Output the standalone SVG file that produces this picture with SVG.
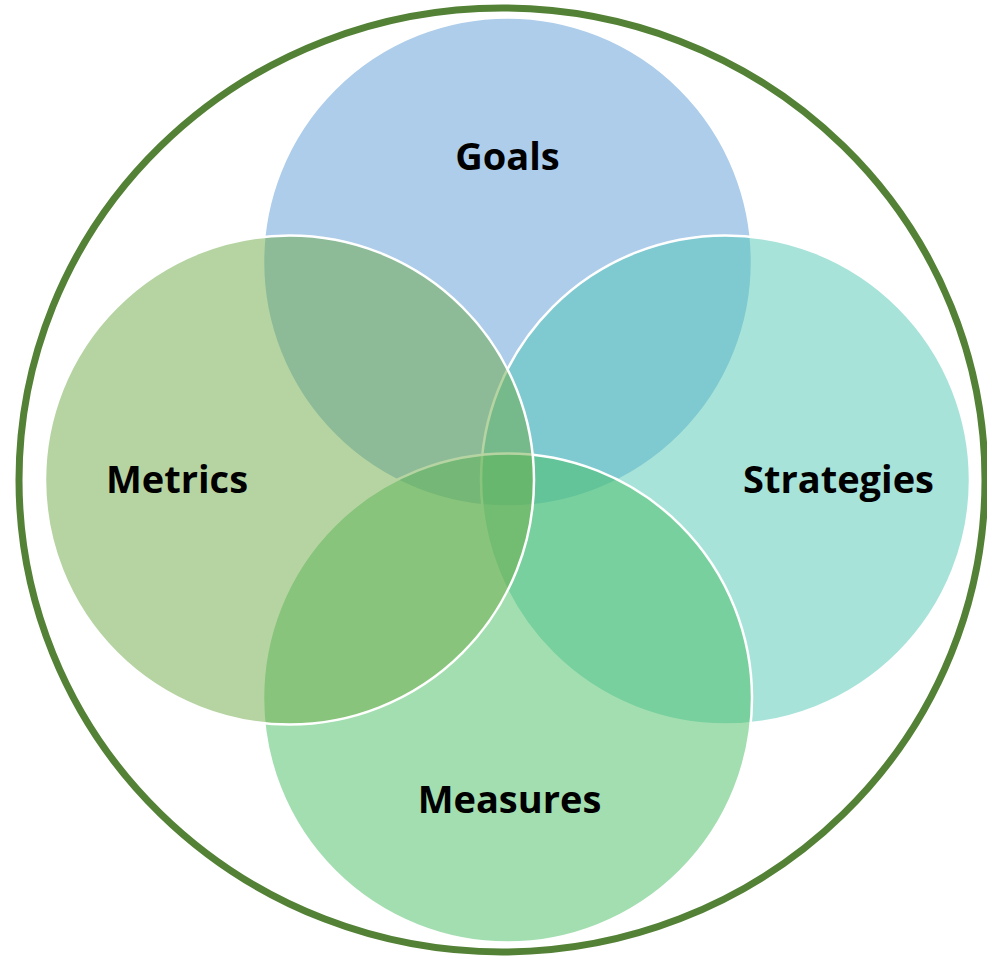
<svg xmlns="http://www.w3.org/2000/svg" width="987" height="957" viewBox="0 0 987 957">
<style>
.c{stroke:#FFFFFF;stroke-width:2.5;fill-opacity:0.5}
.t{font-family:"Open Sans","Noto Sans","Liberation Sans",sans-serif;font-weight:700;font-size:38px;fill:#000000;text-anchor:middle}
</style>
<rect width="987" height="957" fill="#FFFFFF"/>
<g id="outer">
<ellipse cx="502" cy="480" rx="483" ry="472" fill="none" stroke="#538135" stroke-width="7"/>
</g>
<g id="goals">
<circle class="c" cx="507.5" cy="262" r="244.5" fill="#5B9BD5"/>
</g>
<g id="strategies">
<circle class="c" cx="725.5" cy="480" r="244.5" fill="#51C7B5"/>
</g>
<g id="measures">
<circle class="c" cx="507.5" cy="698" r="244.5" fill="#47BD61"/>
</g>
<g id="metrics">
<circle class="c" cx="289.5" cy="480" r="244.5" fill="#6DA945"/>
</g>
<g id="labels">
<text class="t" x="507.5" y="170">Goals</text>
<text class="t" x="177" y="493">Metrics</text>
<text class="t" x="838.5" y="493">Strategies</text>
<text class="t" x="509.5" y="813">Measures</text>
</g>
</svg>
